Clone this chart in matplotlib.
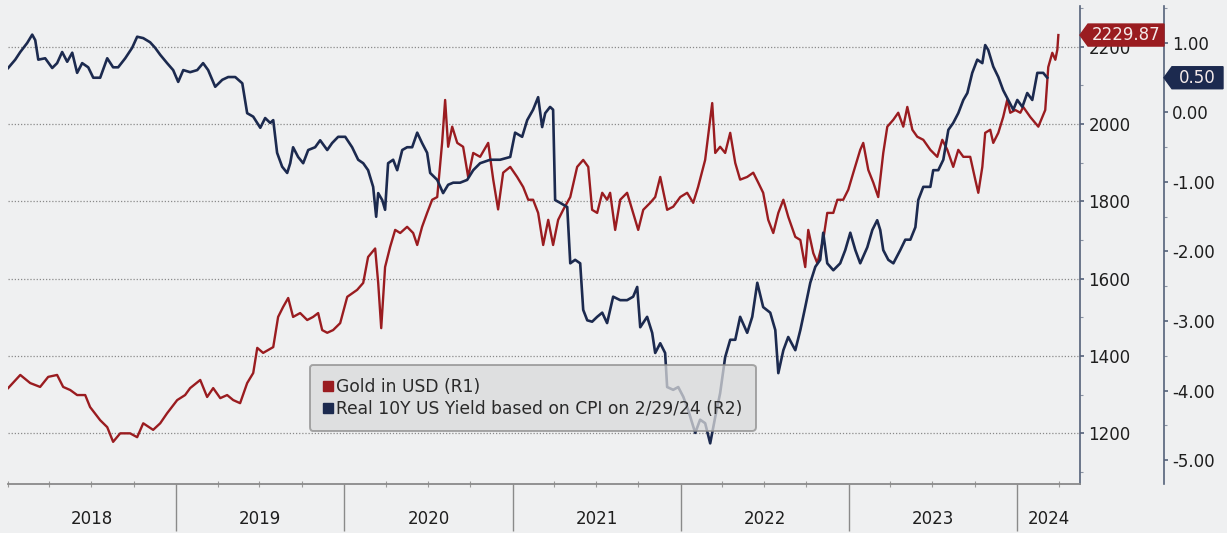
import matplotlib
matplotlib.use("Agg")
import matplotlib.pyplot as plt
import matplotlib.dates as mdates
import matplotlib.lines as mlines
import matplotlib.patches as mpatches
import matplotlib.ticker as mticker
import matplotlib.transforms as mtrans
import numpy as np
import pandas as pd

plt.rcParams["axes.unicode_minus"] = False
plt.rcParams["font.family"] = "DejaVu Sans"

# ── data (decimal year, value) ───────────────────────────────────────────────
gold_t = [2018.001, 2018.073, 2018.132, 2018.191, 2018.239, 2018.292, 2018.328, 2018.370,
          2018.411, 2018.459, 2018.488, 2018.548, 2018.590, 2018.625, 2018.667, 2018.726,
          2018.768, 2018.804, 2018.863, 2018.905, 2018.946, 2019.006, 2019.053, 2019.083,
          2019.143, 2019.184, 2019.220, 2019.262, 2019.303, 2019.339, 2019.380, 2019.422,
          2019.458, 2019.482, 2019.517, 2019.577, 2019.606, 2019.636, 2019.666, 2019.695,
          2019.737, 2019.779, 2019.814, 2019.844, 2019.868, 2019.898, 2019.933, 2019.975,
          2020.017, 2020.076, 2020.112, 2020.141, 2020.183, 2020.201, 2020.219, 2020.242,
          2020.272, 2020.302, 2020.332, 2020.373, 2020.409, 2020.433, 2020.462, 2020.492,
          2020.522, 2020.552, 2020.581, 2020.599, 2020.617, 2020.641, 2020.671, 2020.706,
          2020.736, 2020.766, 2020.807, 2020.855, 2020.885, 2020.914, 2020.944, 2020.986,
          2021.027, 2021.063, 2021.093, 2021.122, 2021.152, 2021.182, 2021.212, 2021.241,
          2021.271, 2021.301, 2021.343, 2021.384, 2021.420, 2021.450, 2021.473, 2021.503,
          2021.533, 2021.562, 2021.580, 2021.610, 2021.640, 2021.681, 2021.717, 2021.747,
          2021.777, 2021.818, 2021.848, 2021.878, 2021.919, 2021.955, 2021.997, 2022.038,
          2022.074, 2022.103, 2022.145, 2022.187, 2022.205, 2022.234, 2022.264, 2022.294,
          2022.324, 2022.353, 2022.395, 2022.431, 2022.461, 2022.490, 2022.520, 2022.550,
          2022.580, 2022.610, 2022.639, 2022.681, 2022.711, 2022.740, 2022.758, 2022.788,
          2022.812, 2022.847, 2022.871, 2022.907, 2022.931, 2022.966, 2022.996, 2023.026,
          2023.067, 2023.085, 2023.115, 2023.145, 2023.174, 2023.204, 2023.228, 2023.264,
          2023.293, 2023.323, 2023.347, 2023.377, 2023.406, 2023.442, 2023.484, 2023.525,
          2023.555, 2023.585, 2023.620, 2023.650, 2023.680, 2023.721, 2023.751, 2023.769,
          2023.793, 2023.810, 2023.840, 2023.858, 2023.888, 2023.917, 2023.941, 2023.959,
          2023.989, 2024.019, 2024.036, 2024.078, 2024.126, 2024.167, 2024.185, 2024.209,
          2024.227, 2024.239, 2024.245]
gold_usd = [1317, 1351, 1330, 1320, 1346, 1351, 1320, 1312,
            1299, 1299, 1268, 1234, 1216, 1178, 1200, 1200,
            1190, 1226, 1209, 1226, 1252, 1286, 1299, 1317,
            1338, 1294, 1317, 1291, 1299, 1286, 1278, 1330,
            1356, 1421, 1408, 1423, 1501, 1527, 1550, 1501,
            1511, 1493, 1501, 1511, 1467, 1460, 1467, 1485,
            1553, 1571, 1589, 1656, 1678, 1589, 1472, 1630,
            1682, 1726, 1718, 1734, 1718, 1687, 1734, 1770,
            1804, 1811, 1951, 2062, 1941, 1993, 1951, 1941,
            1863, 1925, 1915, 1951, 1856, 1779, 1874, 1889,
            1863, 1837, 1804, 1804, 1770, 1687, 1752, 1687,
            1752, 1778, 1811, 1889, 1907, 1889, 1778, 1770,
            1822, 1804, 1822, 1726, 1804, 1822, 1770, 1726,
            1778, 1796, 1811, 1863, 1778, 1786, 1811, 1822,
            1796, 1837, 1907, 2054, 1925, 1941, 1925, 1977,
            1899, 1856, 1863, 1874, 1848, 1822, 1752, 1718,
            1770, 1804, 1760, 1708, 1700, 1630, 1726, 1666,
            1640, 1700, 1770, 1770, 1804, 1804, 1830, 1874,
            1933, 1951, 1881, 1848, 1811, 1925, 1993, 2011,
            2029, 1993, 2044, 1985, 1967, 1959, 1933, 1915,
            1959, 1933, 1889, 1933, 1915, 1915, 1856, 1822,
            1889, 1977, 1985, 1951, 1977, 2018, 2062, 2029,
            2036, 2029, 2044, 2018, 1993, 2036, 2147, 2184,
            2166, 2192, 2229.87]

real_t = [2018.001, 2018.043, 2018.073, 2018.114, 2018.144, 2018.162, 2018.180, 2018.221,
          2018.263, 2018.292, 2018.322, 2018.352, 2018.382, 2018.411, 2018.441, 2018.477,
          2018.507, 2018.548, 2018.590, 2018.625, 2018.655, 2018.697, 2018.738, 2018.768,
          2018.804, 2018.845, 2018.875, 2018.905, 2018.946, 2018.982, 2019.012, 2019.042,
          2019.083, 2019.125, 2019.160, 2019.190, 2019.232, 2019.274, 2019.309, 2019.351,
          2019.393, 2019.422, 2019.458, 2019.500, 2019.529, 2019.559, 2019.577, 2019.600,
          2019.630, 2019.660, 2019.678, 2019.695, 2019.725, 2019.755, 2019.785, 2019.826,
          2019.856, 2019.898, 2019.927, 2019.963, 2020.005, 2020.046, 2020.082, 2020.112,
          2020.141, 2020.171, 2020.189, 2020.201, 2020.225, 2020.242, 2020.260, 2020.290,
          2020.314, 2020.344, 2020.373, 2020.403, 2020.433, 2020.462, 2020.492, 2020.510,
          2020.552, 2020.587, 2020.617, 2020.647, 2020.688, 2020.730, 2020.766, 2020.807,
          2020.867, 2020.926, 2020.986, 2021.015, 2021.057, 2021.087, 2021.122, 2021.152,
          2021.176, 2021.194, 2021.223, 2021.241, 2021.253, 2021.283, 2021.325, 2021.343,
          2021.372, 2021.402, 2021.420, 2021.444, 2021.473, 2021.503, 2021.533, 2021.562,
          2021.598, 2021.640, 2021.681, 2021.717, 2021.741, 2021.759, 2021.800, 2021.830,
          2021.848, 2021.878, 2021.907, 2021.919, 2021.955, 2021.985, 2022.015, 2022.044,
          2022.086, 2022.115, 2022.145, 2022.175, 2022.205, 2022.234, 2022.264, 2022.294,
          2022.324, 2022.353, 2022.395, 2022.425, 2022.455, 2022.490, 2022.532, 2022.562,
          2022.580, 2022.610, 2022.639, 2022.681, 2022.711, 2022.740, 2022.770, 2022.800,
          2022.829, 2022.847, 2022.871, 2022.907, 2022.948, 2022.978, 2023.008, 2023.038,
          2023.067, 2023.109, 2023.139, 2023.168, 2023.186, 2023.204, 2023.234, 2023.264,
          2023.305, 2023.335, 2023.365, 2023.395, 2023.412, 2023.442, 2023.484, 2023.501,
          2023.531, 2023.561, 2023.591, 2023.620, 2023.650, 2023.680, 2023.704, 2023.733,
          2023.763, 2023.793, 2023.810, 2023.828, 2023.858, 2023.888, 2023.917, 2023.947,
          2023.977, 2024.001, 2024.031, 2024.060, 2024.090, 2024.120, 2024.155, 2024.179]
real_yield = [0.64, 0.76, 0.87, 1.00, 1.12, 1.04, 0.76, 0.78,
              0.64, 0.71, 0.87, 0.73, 0.86, 0.57, 0.71, 0.65,
              0.50, 0.50, 0.78, 0.65, 0.65, 0.78, 0.93, 1.09,
              1.07, 1.01, 0.93, 0.83, 0.71, 0.61, 0.44, 0.61,
              0.58, 0.61, 0.71, 0.61, 0.37, 0.47, 0.51, 0.51,
              0.42, -0.01, -0.06, -0.22, -0.08, -0.15, -0.11, -0.58,
              -0.78, -0.87, -0.73, -0.50, -0.64, -0.73, -0.54, -0.50,
              -0.40, -0.54, -0.44, -0.35, -0.35, -0.50, -0.68, -0.73,
              -0.83, -1.07, -1.50, -1.16, -1.26, -1.40, -0.73, -0.68,
              -0.83, -0.54, -0.50, -0.50, -0.29, -0.44, -0.58, -0.87,
              -0.97, -1.16, -1.04, -1.01, -1.01, -0.97, -0.83, -0.73,
              -0.68, -0.68, -0.64, -0.29, -0.35, -0.11, 0.04, 0.22,
              -0.21, -0.01, 0.08, 0.04, -1.26, -1.30, -1.36, -2.17,
              -2.12, -2.17, -2.84, -2.99, -3.01, -2.94, -2.88, -3.03,
              -2.65, -2.70, -2.70, -2.65, -2.51, -3.09, -2.94, -3.17,
              -3.46, -3.32, -3.46, -3.95, -3.99, -3.95, -4.09, -4.28,
              -4.61, -4.42, -4.47, -4.76, -4.38, -4.04, -3.52, -3.27,
              -3.27, -2.94, -3.17, -2.94, -2.45, -2.80, -2.88, -3.13,
              -3.75, -3.42, -3.23, -3.42, -3.13, -2.80, -2.45, -2.22,
              -2.12, -1.73, -2.17, -2.27, -2.17, -1.98, -1.73, -1.98,
              -2.17, -1.94, -1.69, -1.55, -1.69, -1.98, -2.12, -2.17,
              -1.98, -1.83, -1.83, -1.65, -1.26, -1.07, -1.07, -0.83,
              -0.83, -0.68, -0.25, -0.15, -0.01, 0.18, 0.28, 0.57,
              0.76, 0.71, 0.97, 0.90, 0.66, 0.51, 0.32, 0.18,
              0.04, 0.18, 0.08, 0.28, 0.18, 0.57, 0.57, 0.50]

years = [2018, 2019, 2020, 2021, 2022, 2023, 2024]
gold_label = "Gold in USD (R1)"
real_label = "Real 10Y US Yield based on CPI on 2/29/24 (R2)"

BG = "#eff0f1"
RED = "#9a1c20"
NAVY = "#1c2a4f"
SPINE = "#55627a"
TXT = "#1e1e1e"


def to_dates(yrs):
    yrs = np.asarray(yrs, dtype=float)
    return pd.Timestamp("2018-01-01") + pd.to_timedelta((yrs - 2018) * 365.25, unit="D")


# ── figure ────────────────────────────────────────────────────────────────────
fig = plt.figure(figsize=(12.27, 5.33), dpi=100, facecolor=BG)
ax = fig.add_axes([8 / 1227, 1 - 484 / 533, 1072 / 1227, 478 / 533])
ax.set_facecolor(BG)
ax2 = ax.twinx()

ax.plot(to_dates(gold_t), gold_usd, color=RED, lw=1.7, zorder=3)
ax2.plot(to_dates(real_t), real_yield, color=NAVY, lw=1.9, zorder=3)

xmin, xmax = pd.Timestamp("2018-01-01"), pd.Timestamp("2024-05-17")
ax.set_xlim(xmin, xmax)
ax.set_ylim(1069, 2305)
ax2.set_ylim(-5.345, 1.532)

# gold axis (R1)
ax.yaxis.tick_right()
ax.yaxis.set_major_locator(mticker.MultipleLocator(200))
ax.yaxis.set_minor_locator(mticker.MultipleLocator(100))
ax.tick_params(axis="y", which="major", direction="out", length=3, width=1.2,
               color=SPINE, labelsize=12, labelcolor=TXT, pad=3)
ax.tick_params(axis="y", which="minor", direction="out", length=2, width=0.8, color="#8a93a3")
ax.grid(axis="y", which="major", color="#8a8a8a", lw=0.9, ls=(0, (1, 1.5)), zorder=1)

# real yield axis (R2)
ax2.spines["right"].set_position(("axes", 1156 / 1072))
ax2.yaxis.set_major_locator(mticker.MultipleLocator(1))
ax2.yaxis.set_minor_locator(mticker.MultipleLocator(0.5))
ax2.yaxis.set_major_formatter(mticker.StrMethodFormatter("{x:.2f}"))
ax2.tick_params(axis="y", which="major", direction="out", length=3, width=1.2,
                color=SPINE, labelsize=12, labelcolor=TXT, pad=3)
ax2.tick_params(axis="y", which="minor", direction="out", length=2, width=0.8, color="#8a93a3")

for a in (ax, ax2):
    a.spines["left"].set_visible(False)
    a.spines["top"].set_visible(False)
    a.spines["right"].set_color(SPINE)
    a.spines["right"].set_linewidth(1.2)
ax2.spines["bottom"].set_visible(False)
ax.spines["bottom"].set_color("#8a8a8a")
ax.spines["bottom"].set_linewidth(1.3)

# x axis: year separators + quarterly ticks, year labels centred in each span
ax.set_xticks([pd.Timestamp(f"{y}-01-01") for y in years[1:]])
ax.xaxis.set_minor_locator(mdates.MonthLocator(bymonth=[1, 4, 7, 10]))
ax.tick_params(axis="x", which="major", direction="out", length=34, width=1.0,
               color="#8a8a8a", labelbottom=False)
ax.tick_params(axis="x", which="minor", direction="inout", length=4, width=0.8, color="#9a9a9a")
for y in years:
    lo = max(pd.Timestamp(f"{y}-01-01"), xmin)
    hi = min(pd.Timestamp(f"{y + 1}-01-01"), xmax)
    mid = mdates.date2num(lo + (hi - lo) / 2)
    ax.annotate(str(y), xy=(mid, 0), xycoords=("data", "axes fraction"),
                xytext=(0, -25), textcoords="offset points",
                ha="center", va="center", fontsize=12, color=TXT)

# legend
handles = [
    mlines.Line2D([], [], ls="none", marker="s", markersize=7.5, color=RED, label=gold_label),
    mlines.Line2D([], [], ls="none", marker="s", markersize=7.5, color=NAVY, label=real_label),
]
leg = ax2.legend(handles=handles, loc="upper left", bbox_to_anchor=(310 / 1227, 1 - 365 / 533),
                 bbox_transform=fig.transFigure, fontsize=12.3, frameon=True,
                 facecolor="#d9dadb", edgecolor="#8c8c8c", framealpha=0.75,
                 handlelength=0.6, handletextpad=0.2, labelspacing=0.25,
                 borderpad=0.75, borderaxespad=0, fancybox=True)
leg.get_frame().set_linewidth(1.4)
for t in leg.get_texts():
    t.set_color("#2a2a2a")

# value tags on the axes
fig.canvas.draw()


def tag(axis, spine_x, value, text, width, face):
    x0, _ = axis.transAxes.transform((spine_x, 0))
    _, yc = axis.transData.transform((0, value))
    h, tip = 22, 8
    verts = [(x0, yc), (x0 + tip, yc + h / 2), (x0 + width, yc + h / 2),
             (x0 + width, yc - h / 2), (x0 + tip, yc - h / 2)]
    fig.patches.append(mpatches.Polygon(verts, closed=True, facecolor=face, edgecolor=face,
                                        transform=mtrans.IdentityTransform(), zorder=5))
    fx, fy = fig.transFigure.inverted().transform((x0 + tip / 2 + width / 2, yc))
    fig.text(fx, fy, text, ha="center", va="center", fontsize=12, color="#f4eaea", zorder=6)


tag(ax, 1.0, gold_usd[-1], f"{gold_usd[-1]:.2f}", 84, RED)
tag(ax2, 1156 / 1072, real_yield[-1], f"{real_yield[-1]:.2f}", 59, NAVY)

fig.savefig("out.png", dpi=100, facecolor=BG)
